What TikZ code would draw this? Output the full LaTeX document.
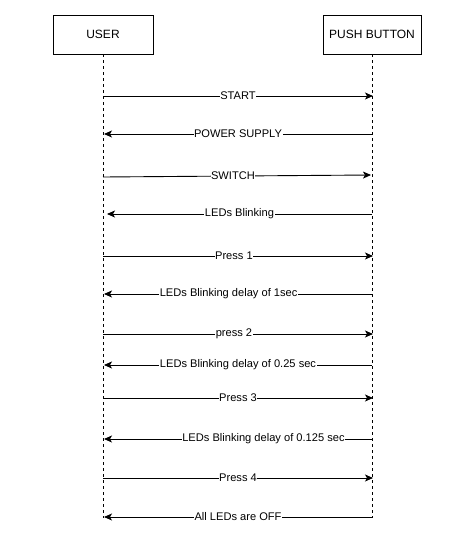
\documentclass[tikz,border=0pt]{standalone}
\usepackage{fontspec}
\setmainfont{Liberation Sans}
\usetikzlibrary{arrows.meta}
\begin{document}
\begin{tikzpicture}[x=1pt,y=-1pt,
  actor/.style={draw,line width=0.8pt,minimum width=100pt,minimum height=39pt,inner sep=0pt,font=\fontsize{12}{14}\selectfont},
  life/.style={line width=0.8pt,dash pattern=on 3pt off 3pt},
  msg/.style={line width=0.9pt,-{Stealth[length=8pt,width=7pt,inset=2pt]}},
  lbl/.style={fill=white,inner sep=0.5pt,font=\fontsize{11.1}{13}\selectfont}]
\useasboundingbox (0,0) rectangle (450,546);
\node[actor] (user) at (103,34.5) {USER};
\node[actor,minimum width=98pt] (pb) at (372,34.5) {PUSH BUTTON};
\coordinate (ue) at (103,518);
\coordinate (pe) at (372,518);
\draw[life] (user.south) -- (ue);
\draw[life] (pb.south) -- (pe);
% messages
\coordinate (u1) at (103,96);  \coordinate (p1) at (373,96);
\coordinate (u2) at (104,134); \coordinate (p2) at (372,134);
\coordinate (u3) at (103,177); \coordinate (p3) at (371,175);
\coordinate (u4) at (107,214); \coordinate (p4) at (372,214);
\coordinate (u5) at (103,256); \coordinate (p5) at (373,256);
\coordinate (u6) at (104,294); \coordinate (p6) at (372,294);
\coordinate (u7) at (103,334); \coordinate (p7) at (373,334);
\coordinate (u8) at (104,365); \coordinate (p8) at (372,365);
\coordinate (u9) at (103,398); \coordinate (p9) at (373,398);
\coordinate (u10) at (104,439); \coordinate (p10) at (372,439);
\coordinate (u11) at (103,478); \coordinate (p11) at (373,478);
\coordinate (u12) at (104,517); \coordinate (p12) at (372,517);
\draw[msg] (u1) -- node[lbl,pos=0.50]{START} (p1);
\draw[msg] (p2) -- node[lbl,pos=0.50]{POWER SUPPLY} (u2);
\draw[msg] (u3) -- node[lbl,pos=0.485]{SWITCH} (p3);
\draw[msg] (p4) -- node[lbl,pos=0.50]{LEDs Blinking} (u4);
\draw[msg] (u5) -- node[lbl,pos=0.485]{Press 1} (p5);
\draw[msg] (p6) -- node[lbl,pos=0.535]{LEDs Blinking delay of 1sec} (u6);
\draw[msg] (u7) -- node[lbl,pos=0.485]{press 2} (p7);
\draw[msg] (p8) -- node[lbl,pos=0.50]{LEDs Blinking delay of 0.25 sec} (u8);
\draw[msg] (u9) -- node[lbl,pos=0.50]{Press 3} (p9);
\draw[msg] (p10) -- node[lbl,pos=0.405]{LEDs Blinking delay of 0.125 sec} (u10);
\draw[msg] (u11) -- node[lbl,pos=0.50]{Press 4} (p11);
\draw[msg] (p12) -- node[lbl,pos=0.50]{All LEDs are OFF} (u12);
\end{tikzpicture}
\end{document}
